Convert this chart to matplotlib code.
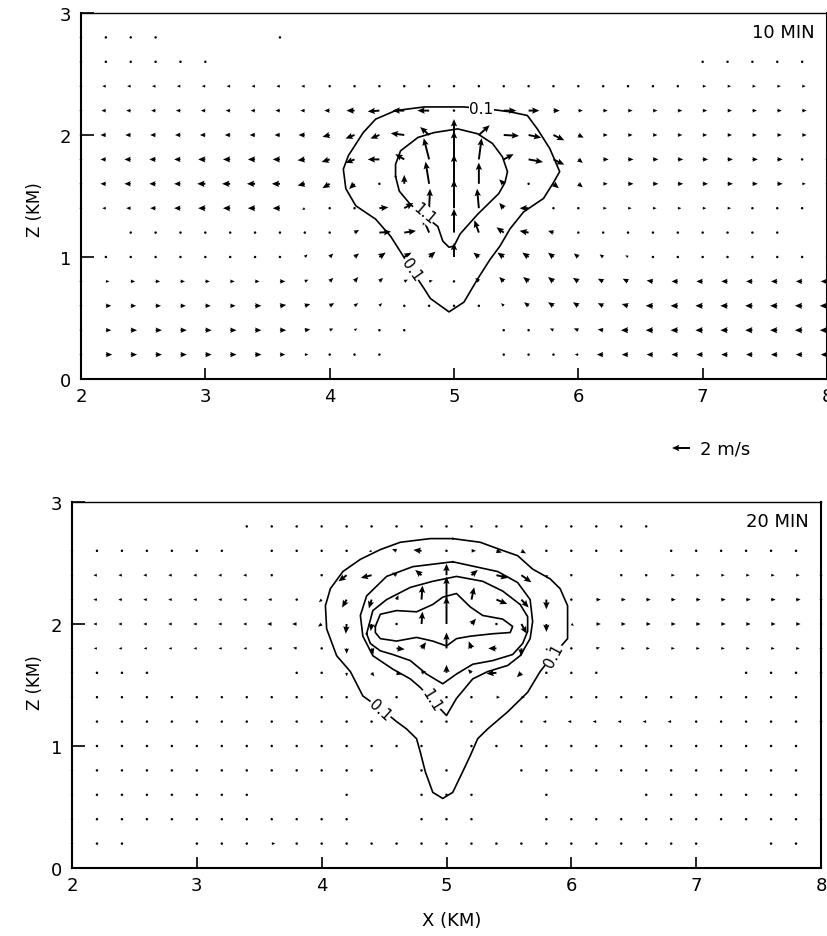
import numpy as np
import matplotlib
matplotlib.use("Agg")
import matplotlib.pyplot as plt

N = np.nan

# model grid (km); rows run from the top of the domain downwards
X_KM = [2.0, 2.2, 2.4, 2.6, 2.8, 3.0, 3.2, 3.4, 3.6, 3.8, 4.0, 4.2, 4.4, 4.6, 4.8, 5.0,
        5.2, 5.4, 5.6, 5.8, 6.0, 6.2, 6.4, 6.6, 6.8, 7.0, 7.2, 7.4, 7.6, 7.8, 8.0]
Z_KM = [2.8, 2.6, 2.4, 2.2, 2.0, 1.8, 1.6, 1.4, 1.2, 1.0, 0.8, 0.6, 0.4, 0.2]

# ---- 10 min: horizontal (u) and vertical (w) wind, m/s ----
U10 = [
    [-0.2, -0.2, -0.2, -0.2, N, N, N, N, -0.1, N, N, N, N, N, N, N, N, N, N, N, N, N, N, N, N, N, N, N, N, N, N],
    [-0.2, -0.3, -0.3, -0.3, -0.3, -0.3, N, N, N, N, N, N, N, N, N, N, N, N, N, N, N, N, N, N, N, 0.2, 0.2, 0.2, 0.2, 0.2, N],
    [-0.2, -0.4, -0.4, -0.4, -0.4, -0.4, -0.4, -0.4, -0.4, -0.4, -0.3, -0.3, -0.3, -0.2, -0.2, 0.0, 0.1, 0.2, 0.3, 0.2, 0.2, 0.2, 0.2, 0.2, 0.2, 0.4, 0.4, 0.4, 0.4, 0.4, 0.4],
    [-0.3, -0.5, -0.5, -0.5, -0.5, -0.5, -0.5, -0.5, -0.5, -0.5, -0.6, -0.9, -1.3, -1.3, -1.3, 0.0, 0.5, 1.4, 1.2, 0.7, 0.5, 0.5, 0.5, 0.5, 0.5, 0.5, 0.5, 0.5, 0.5, 0.5, 0.5],
    [-0.3, -0.6, -0.6, -0.6, -0.6, -0.6, -0.6, -0.6, -0.6, -0.7, -0.8, -1.0, -1.0, -1.5, -1.0, 0.0, 1.2, 1.7, 1.4, 1.2, 0.6, 0.5, 0.5, 0.5, 0.5, 0.5, 0.5, 0.5, 0.5, 0.5, 0.4],
    [-0.3, -0.6, -0.7, -0.7, -0.7, -0.8, -0.8, -0.8, -0.8, -0.8, -0.9, -1.0, -1.3, -1.0, -0.6, 0.0, 0.3, 1.1, 1.6, 1.2, 0.5, 0.6, 0.6, 0.6, 0.6, 0.6, 0.6, 0.6, 0.6, 0.3, 0.3],
    [-0.3, -0.6, -0.7, -0.7, -0.7, -0.9, -0.9, -0.9, -0.9, -0.8, -0.8, -0.6, -0.2, 0.0, -0.4, 0.0, 0.0, -0.5, 0.2, 0.6, 0.5, 0.5, 0.6, 0.6, 0.6, 0.6, 0.6, 0.6, 0.6, 0.4, 0.3],
    [-0.2, -0.4, -0.5, -0.6, -0.7, -0.8, -0.8, -0.8, -0.8, -0.3, -0.2, 0.2, 1.0, 1.0, 0.1, 0.0, -0.2, -0.5, -1.0, -0.2, -0.1, 0.4, 0.4, 0.4, 0.4, 0.4, 0.4, 0.2, 0.2, 0.2, N],
    [N, N, 0.2, 0.2, 0.2, 0.2, 0.2, 0.2, 0.2, 0.2, 0.2, 0.5, 1.3, 1.3, -0.7, 0.0, -0.5, -0.8, -1.0, -0.6, -0.2, -0.1, -0.1, -0.1, -0.1, -0.1, -0.1, -0.1, -0.1, N, N],
    [N, 0.1, 0.1, 0.1, 0.1, 0.1, 0.1, 0.1, 0.1, 0.3, 0.4, 0.5, 0.7, 0.8, 0.7, 0.0, -0.6, -0.7, -0.7, -0.6, -0.5, -0.4, -0.3, -0.2, -0.2, -0.2, -0.3, -0.3, -0.3, -0.3, -0.3],
    [0.2, 0.4, 0.5, 0.5, 0.5, 0.5, 0.5, 0.5, 0.6, 0.4, 0.4, 0.4, 0.4, 0.4, 0.4, 0.0, -0.4, -0.5, -0.6, -0.6, -0.6, -0.6, -0.6, -0.7, -0.7, -0.7, -0.7, -0.7, -0.7, -0.7, -0.7],
    [0.3, 0.6, 0.6, 0.6, 0.6, 0.6, 0.6, 0.7, 0.7, 0.6, 0.5, 0.4, 0.3, 0.2, 0.1, 0.0, 0.0, -0.3, -0.5, -0.6, -0.6, -0.6, -0.7, -0.8, -0.8, -0.8, -0.8, -0.8, -0.8, -0.8, -0.8],
    [0.3, 0.6, 0.7, 0.7, 0.7, 0.7, 0.7, 0.7, 0.7, 0.6, 0.4, 0.3, 0.2, 0.1, N, N, N, 0.0, -0.2, -0.4, -0.5, -0.6, -0.8, -0.8, -0.8, -0.8, -0.8, -0.8, -0.8, -0.8, -0.8],
    [0.3, 0.7, 0.7, 0.7, 0.7, 0.7, 0.7, 0.7, 0.6, 0.4, 0.3, 0.2, 0.1, N, N, N, N, -0.1, -0.1, -0.2, -0.4, -0.7, -0.7, -0.7, -0.7, -0.7, -0.7, -0.7, -0.7, -0.7, -0.7],
]
W10 = [
    [0, 0, 0, 0, 0, 0, 0, 0, 0, 0, 0, 0, 0, 0, 0, 0, 0, 0, 0, 0, 0, 0, 0, 0, 0, 0, 0, 0, 0, 0, 0],
    [0, 0, 0, 0, 0, 0, 0, 0, 0, 0, 0, 0, 0, 0, 0, 0, 0, 0, 0, 0, 0, 0, 0, 0, 0, 0, 0, 0, 0, 0, 0],
    [0, 0, 0, 0, 0, 0, 0, 0, 0, 0, 0, 0, 0, 0, 0.2, 0.1, 0, 0, 0, 0, 0, 0, 0, 0, 0, 0, 0, 0, 0, 0, 0],
    [0, 0, 0, 0, 0, 0, 0, 0, 0, 0, 0, 0, -0.1, 0, 0, 0.3, 0, 0, 0, 0, 0, 0, 0, 0, 0, 0, 0, 0, 0, 0, 0],
    [0, 0, 0, 0, 0, 0, 0, 0, 0, 0, -0.2, -0.4, -0.4, 0.2, 0.9, 1.8, 1.1, -0.1, -0.3, -0.6, -0.3, 0, 0, 0, 0, 0, 0, 0, 0, 0, 0],
    [0, 0, 0, 0, 0, 0, 0, 0, 0, -0.1, -0.3, -0.4, 0.0, 0.6, 2.4, 3.2, 2.4, 0.6, -0.3, -0.6, -0.4, 0, 0, 0, 0, 0, 0, 0, 0, 0, 0],
    [0, 0, 0, 0, 0, 0, 0, 0, 0, -0.2, -0.5, -0.6, -0.2, 1.0, 2.5, 3.3, 2.4, 0.5, -0.2, -0.5, -0.4, 0, 0, 0, 0, 0, 0, 0, 0, 0, 0],
    [0, 0, 0, 0, 0, 0, 0, 0, 0, -0.2, -0.2, 0.2, 0.1, 0.6, 2.2, 3.2, 2.2, 0.6, 0.0, -0.1, 0, 0, 0, 0, 0, 0, 0, 0, 0, 0, 0],
    [0, 0, 0, 0, 0, 0, 0, 0, 0, 0, 0.1, 0.3, 0.1, 0.2, 1.7, 2.7, 1.4, 0.6, 0.2, 0.2, 0, 0, 0, 0, 0, 0, 0, 0, 0, 0, 0],
    [0, 0.1, 0.1, 0.1, 0.1, 0.1, 0.1, 0.1, 0.1, 0.3, 0.4, 0.4, 0.5, 0.5, 0.6, 1.6, 0.5, 0.5, 0.5, 0.5, 0.4, 0.3, 0.2, 0.1, 0.1, 0.1, 0, 0, 0, 0, 0],
    [0, 0, 0, 0, 0, 0, 0, 0, 0, 0.2, 0.4, 0.5, 0.4, 0.2, 0.1, 0.3, 0.4, 0.5, 0.5, 0.5, 0.4, 0.3, 0.3, 0.1, 0, 0, 0, 0, 0, 0, 0],
    [0, 0, 0, 0, 0, 0, 0, 0, 0.1, 0.2, 0.3, 0.3, 0.3, 0.1, 0.1, 0.1, 0.1, 0.3, 0.4, 0.4, 0.4, 0.3, 0.2, 0, 0, 0, 0, 0, 0, 0, 0],
    [0, 0, 0, 0, 0, 0, 0, 0, 0, 0.1, 0.2, 0.2, 0.2, 0, 0, 0, 0, 0.1, 0.1, 0.2, 0.2, 0.1, 0, 0, 0, 0, 0, 0, 0, 0, 0],
    [0, 0, 0, 0, 0, 0, 0, 0, 0, 0, 0, 0.1, 0.1, 0, 0, 0, 0, 0, 0, 0, 0, 0, 0, 0, 0, 0, 0, 0, 0, 0, 0],
]

# ---- 20 min ----
U20 = [
    [N, N, N, N, N, N, N, -0.1, -0.1, -0.1, -0.1, -0.1, -0.1, -0.1, 0.1, 0.1, 0.1, 0.1, 0.15, 0.15, 0.15, 0.15, 0.15, 0.15, N, N, N, N, N, N, N],
    [-0.2, -0.2, -0.2, -0.2, -0.2, -0.2, -0.2, N, -0.1, -0.1, -0.2, -0.2, -0.3, -0.5, -0.9, 0.0, 0.5, 0.6, 0.5, 0.15, 0.1, 0.1, 0.1, N, 0.3, 0.3, 0.3, 0.3, 0.3, 0.3, N],
    [-0.2, -0.4, -0.4, -0.4, -0.4, -0.4, -0.4, -0.4, -0.3, N, -0.15, -0.9, -1.2, -0.5, -0.7, 0.0, 0.7, 1.3, 1.1, 0.1, 0.1, N, 0.1, 0.1, 0.4, 0.4, 0.4, 0.4, 0.4, 0.4, 0.3],
    [-0.2, -0.4, -0.4, -0.4, -0.4, -0.4, -0.4, -0.4, -0.4, -0.2, -0.3, -0.5, -0.3, 0.2, 0.1, 0.0, 0.3, 1.2, 0.8, 0.0, 0.1, 0.5, 0.5, 0.5, 0.5, 0.5, 0.5, 0.5, 0.5, 0.5, 0.3],
    [-0.2, -0.4, -0.4, -0.4, -0.4, -0.4, -0.4, -0.4, -0.5, -0.5, -0.4, -0.1, -0.1, 0.1, 0.1, 0.0, 0.5, 0.1, 0.6, 0.0, 0.3, 0.5, 0.5, 0.5, 0.5, 0.5, 0.5, 0.5, 0.5, 0.5, 0.3],
    [-0.2, -0.35, -0.35, -0.35, -0.35, -0.35, -0.35, -0.35, -0.4, -0.4, -0.1, 0.0, 0.2, 0.9, 0.5, 0.0, -0.3, -0.9, 0.0, 0.1, 0.2, 0.4, 0.4, 0.4, 0.4, 0.4, 0.4, 0.4, 0.4, 0.4, 0.3],
    [-0.1, -0.2, -0.2, -0.2, N, N, N, N, N, -0.1, -0.1, 0.0, 0.3, 0.6, 0.5, 0.0, -0.4, -1.1, -0.5, -0.1, 0.2, 0.2, N, N, N, N, N, 0.1, 0.1, 0.2, 0.1],
    [-0.1, -0.1, -0.1, -0.1, -0.1, -0.1, -0.3, -0.3, -0.3, -0.3, -0.3, -0.3, N, 0.3, N, 0.1, 0.2, 0.4, 0.4, 0.2, 0.2, 0.3, 0.3, 0.2, 0.2, 0.1, 0.1, 0.1, 0.1, 0.2, N],
    [N, 0.1, 0.1, 0.1, 0.1, -0.3, -0.3, -0.3, -0.3, -0.3, -0.3, -0.3, -0.1, N, 0.1, 0.1, 0.1, N, -0.2, -0.4, -0.4, -0.4, -0.4, -0.4, -0.4, -0.2, -0.2, -0.1, -0.1, 0.2, 0.1],
    [N, 0.1, 0.1, 0.1, 0.1, 0.1, -0.2, -0.2, -0.2, -0.2, -0.2, -0.1, -0.1, -0.1, 0.1, N, 0.1, 0.1, -0.1, -0.3, -0.3, -0.3, -0.3, -0.3, -0.1, -0.2, 0.1, 0.1, 0.1, 0.1, N],
    [0.2, 0.1, 0.1, 0.1, 0.1, 0.1, 0.1, 0.1, 0.1, 0.1, 0.1, 0.1, 0.1, N, 0.1, 0.1, N, N, -0.1, -0.1, -0.1, -0.1, -0.1, -0.1, -0.1, -0.1, -0.1, -0.1, -0.1, -0.1, N],
    [0.1, 0.15, 0.15, 0.15, 0.15, 0.15, 0.15, 0.15, N, N, N, 0.1, N, N, 0.1, 0.1, 0.1, N, N, 0.1, N, N, N, 0.2, 0.1, 0.1, 0.1, 0.1, 0.1, 0.1, 0.1],
    [0.2, 0.15, 0.15, 0.15, 0.15, 0.15, 0.15, 0.15, 0.15, 0.15, 0.15, 0.15, N, N, 0.1, 0.1, 0.1, N, N, 0.1, 0.1, -0.3, -0.3, -0.3, -0.3, 0.1, 0.1, 0.1, 0.1, 0.1, 0.1],
    [0.2, 0.15, 0.15, N, N, 0.3, 0.3, 0.3, 0.4, 0.3, 0.3, 0.3, 0.1, 0.1, 0.1, 0.1, 0.1, 0.1, 0.1, -0.3, -0.3, -0.3, -0.3, -0.3, -0.3, 0.1, N, N, 0.1, 0.1, N],
]
W20 = [
    [0, 0, 0, 0, 0, 0, 0, 0, 0, 0, 0, 0, 0, 0, 0, 0, 0, 0, 0, 0, 0, 0, 0, 0, 0, 0, 0, 0, 0, 0, 0],
    [0, 0, 0, 0, 0, 0, 0, 0, 0, 0, 0, -0.1, -0.1, 0.2, 0.1, 0.3, 0, -0.2, -0.3, 0, 0, 0, 0, 0, 0, 0, 0, 0, 0, 0, 0],
    [0, 0, 0, 0, 0, 0, 0, 0, 0, 0, 0, -0.7, -0.3, 0.3, 0.6, 1.3, 0.6, -0.3, -0.8, -0.4, 0, 0, 0, 0, 0, 0, 0, 0, 0, 0, 0],
    [0, 0, 0, 0, 0, 0, 0, 0, 0, 0, -0.3, -0.9, -1.0, 0.5, 1.6, 2.6, 1.4, -0.5, -0.9, -1.1, -0.2, 0, 0, 0, 0, 0, 0, 0, 0, 0, 0],
    [0, 0, 0, 0, 0, 0, 0, 0, 0, 0, -0.3, -1.1, -0.8, 0, 1.4, 3.1, 0.6, 0, -1.1, -0.9, -0.2, 0, 0, 0, 0, 0, 0, 0, 0, 0, 0],
    [0, 0, 0, 0, 0, 0, 0, 0, 0, 0.1, -0.1, -0.6, -0.7, -0.1, 0.7, 1.8, 0.8, 0.0, -0.9, -0.3, -0.2, 0.1, 0, 0, 0, 0, 0, 0, 0, 0, 0],
    [0, 0, 0, 0, 0, 0, 0, 0, 0, 0, 0, -0.4, -0.4, -0.2, 0.2, 0.9, 0.4, -0.1, -0.5, -0.2, -0.1, 0, 0, 0, 0, 0, 0, 0, 0, 0, 0],
    [0, 0, 0, 0, 0, 0, 0, 0, 0, 0, 0, 0, 0, 0, 0, 0, 0, 0, 0, 0, 0, 0, 0, 0, 0, 0, 0, 0, 0, 0.1, 0],
    [0, 0.1, 0.1, 0.1, 0.1, 0, 0, 0, 0, 0, 0, 0, 0, 0, 0, 0, 0, 0, 0, 0, 0, 0, 0, 0, 0, 0.2, 0.2, 0.1, 0, 0.2, 0],
    [0, 0.1, 0.1, 0.1, 0.1, 0.1, 0, 0, 0, 0, 0, 0, 0, 0, 0, 0, 0, 0, 0, 0, 0, 0, 0, 0, 0, 0.2, -0.1, -0.1, -0.1, -0.1, 0],
    [0, 0.1, 0.1, 0.1, 0.1, 0.1, 0.1, 0.1, 0.1, 0.1, 0.1, 0.1, 0.1, 0, 0, 0, 0, 0, 0.1, 0.1, 0.1, 0.1, 0.1, 0.1, 0.1, 0.1, 0.1, 0.1, 0.1, 0.1, 0],
    [0, 0.1, 0.1, 0.1, 0.1, 0.1, 0.1, 0.1, 0, 0, 0, 0, 0, 0, 0, 0, 0, 0, 0, 0, 0, 0, 0, 0.1, 0, 0, 0, 0, 0, 0, 0],
    [0, 0, 0, 0, 0, 0, 0, 0, 0, 0, 0, 0, 0, 0, 0, 0, 0, 0, 0, 0, 0, 0, 0, 0, 0, 0, 0, 0, 0, 0, 0],
    [0, 0, 0, 0, 0, 0, 0, 0, 0, 0, 0, 0, 0, 0, 0, 0, 0, 0, 0, 0, 0, 0, 0, 0, 0, 0, 0, 0, 0, 0, 0],
]

# ---- contour lines (x, z in km) ----
C10_01_X = [4.53, 4.37, 4.27, 4.15, 4.11, 4.13, 4.21, 4.37, 4.49, 4.59, 4.63, 4.76, 4.81, 4.96, 5.08, 5.19,
            5.29, 5.37, 5.45, 5.56, 5.72, 5.80, 5.85, 5.77, 5.67, 5.59, 5.45, 5.30, 5.08, 4.76, 4.53]
C10_01_Z = [2.20, 2.13, 2.02, 1.83, 1.72, 1.56, 1.42, 1.31, 1.17, 1.01, 0.94, 0.74, 0.66, 0.55, 0.63, 0.82,
            0.98, 1.09, 1.23, 1.37, 1.48, 1.61, 1.70, 1.89, 2.05, 2.16, 2.19, 2.21, 2.23, 2.23, 2.20]
C10_11_X = [4.53, 4.53, 4.57, 4.71, 4.84, 5.03, 5.19, 5.31, 5.39, 5.43, 5.41, 5.36, 5.27, 5.19, 5.12, 5.05,
            5.00, 4.96, 4.91, 4.87, 4.65, 4.56, 4.53]
C10_11_Z = [1.66, 1.76, 1.87, 1.98, 2.02, 2.05, 2.01, 1.93, 1.82, 1.70, 1.61, 1.52, 1.43, 1.35, 1.27, 1.19,
            1.09, 1.08, 1.13, 1.25, 1.43, 1.54, 1.66]

C20_01_X = [5.05, 5.27, 5.43, 5.57, 5.69, 5.83, 5.91, 5.97, 5.97, 5.97, 5.85, 5.75, 5.65, 5.49, 5.33, 5.25,
            5.19, 5.13, 5.05, 4.97, 4.89, 4.83, 4.79, 4.76, 4.68, 4.60, 4.48, 4.33, 4.23, 4.12, 4.04, 4.03,
            4.07, 4.17, 4.31, 4.47, 4.63, 4.87, 5.05]
C20_01_Z = [2.70, 2.67, 2.61, 2.56, 2.45, 2.37, 2.29, 2.15, 2.02, 1.88, 1.74, 1.61, 1.44, 1.28, 1.14, 1.06,
            0.92, 0.79, 0.62, 0.57, 0.62, 0.79, 0.95, 1.06, 1.14, 1.20, 1.30, 1.41, 1.61, 1.74, 1.96, 2.15,
            2.29, 2.43, 2.53, 2.61, 2.67, 2.70, 2.70]
C20_11_X = [5.05, 5.41, 5.57, 5.67, 5.69, 5.67, 5.59, 5.49, 5.33, 5.21, 5.08, 5.00, 4.88, 4.79, 4.71, 4.57,
            4.41, 4.33, 4.31, 4.36, 4.52, 4.73, 5.05]
C20_11_Z = [2.51, 2.43, 2.34, 2.20, 2.02, 1.88, 1.74, 1.66, 1.61, 1.55, 1.39, 1.25, 1.38, 1.48, 1.55, 1.63,
            1.74, 1.90, 2.07, 2.23, 2.39, 2.47, 2.51]
C20_21_X = [4.36, 4.41, 4.52, 4.71, 4.89, 5.08, 5.29, 5.45, 5.59, 5.65, 5.65, 5.61, 5.53, 5.37, 5.21, 5.08,
            4.97, 4.84, 4.71, 4.57, 4.47, 4.39, 4.36]
C20_21_Z = [1.92, 2.11, 2.20, 2.30, 2.35, 2.39, 2.35, 2.27, 2.16, 2.06, 1.94, 1.84, 1.75, 1.70, 1.67, 1.59,
            1.51, 1.59, 1.70, 1.75, 1.78, 1.84, 1.92]
C20_31_X = [4.43, 4.47, 4.60, 4.76, 4.89, 4.97, 5.08, 5.19, 5.29, 5.45, 5.53, 5.51, 5.37, 5.19, 5.08, 5.00,
            4.89, 4.76, 4.60, 4.47, 4.43, 4.43]
C20_31_Z = [1.98, 2.08, 2.11, 2.10, 2.16, 2.22, 2.25, 2.14, 2.07, 2.04, 1.98, 1.93, 1.92, 1.90, 1.88, 1.82,
            1.86, 1.89, 1.86, 1.88, 1.93, 1.98]

# contour labels: text, x, z, rotation
LABELS10 = [("0.1", 5.22, 2.22, 0), ("0.1", 4.66, 0.90, -55), ("1.1", 4.76, 1.36, -40)]
LABELS20 = [("0.1", 4.47, 1.30, -42), ("1.1", 4.88, 1.38, -58), ("0.1", 5.86, 1.74, 62)]

SCALE = 13.8  # m/s per km of arrow length


def draw_panel(ax, u_rows, w_rows, lines, labels, tag):
    xx, zz = np.meshgrid(X_KM, Z_KM)
    u = np.ma.masked_invalid(np.array(u_rows, dtype=float))
    w = np.ma.masked_array(np.array(w_rows, dtype=float), mask=np.ma.getmaskarray(u))
    q = ax.quiver(xx, zz, u, w, angles="xy", scale_units="xy", scale=SCALE, pivot="tail",
                  width=0.0026, headwidth=3.3, headlength=3.8, headaxislength=3.3,
                  minlength=1.4, color="k", clip_on=False)
    for xs, zs in lines:
        ax.plot(xs, zs, color="k", lw=1.2, solid_joinstyle="round")
    for txt, lx, lz, rot in labels:
        ax.text(lx, lz, txt, fontsize=11, rotation=rot % 360, ha="center", va="center",
                bbox=dict(facecolor="white", edgecolor="none", pad=0.3))
    ax.text(0.983, 0.948, tag, transform=ax.transAxes, ha="right", va="center", fontsize=13)

    ax.set_xlim(2, 8)
    ax.set_ylim(0, 3)
    ax.set_xticks([2, 3, 4, 5, 6, 7, 8])
    ax.set_yticks([0, 1, 2, 3])
    ax.tick_params(axis="x", direction="in", length=8, width=1.2, labelsize=13, pad=6)
    ax.tick_params(axis="y", direction="in", length=9, width=1.2, labelsize=13, pad=7)
    for side in ("left", "bottom", "right"):
        ax.spines[side].set_linewidth(1.5)
    ax.spines["top"].set_linewidth(1.0)
    return q


fig = plt.figure(figsize=(8.27, 9.37), dpi=100)
ax_top = fig.add_axes([81 / 827, 1 - 380 / 937, 746 / 827, 366 / 937])
ax_bot = fig.add_axes([72 / 827, 1 - 869 / 937, 749 / 827, 366 / 937])

q10 = draw_panel(ax_top, U10, W10, [(C10_01_X, C10_01_Z), (C10_11_X, C10_11_Z)], LABELS10, "10 MIN")
draw_panel(ax_bot, U20, W20,
           [(C20_01_X, C20_01_Z), (C20_11_X, C20_11_Z), (C20_21_X, C20_21_Z), (C20_31_X, C20_31_Z)],
           LABELS20, "20 MIN")

# reference arrow between the panels
ax_top.quiverkey(q10, 681 / 827, 1 - 449 / 937, 2, "", angle=180, labelpos="N", coordinates="figure")
fig.text(700 / 827, 1 - 450 / 937, "2 m/s", fontsize=13, va="center", ha="left")

fig.text(35 / 827, 1 - 210 / 937, "Z (KM)", rotation=90, fontsize=12, ha="center", va="center")
fig.text(35 / 827, 1 - 683 / 937, "Z (KM)", rotation=90, fontsize=12, ha="center", va="center")
fig.text(452 / 827, 1 - 921 / 937, "X (KM)", fontsize=13, ha="center", va="center")

fig.savefig("out.png", dpi=100)
